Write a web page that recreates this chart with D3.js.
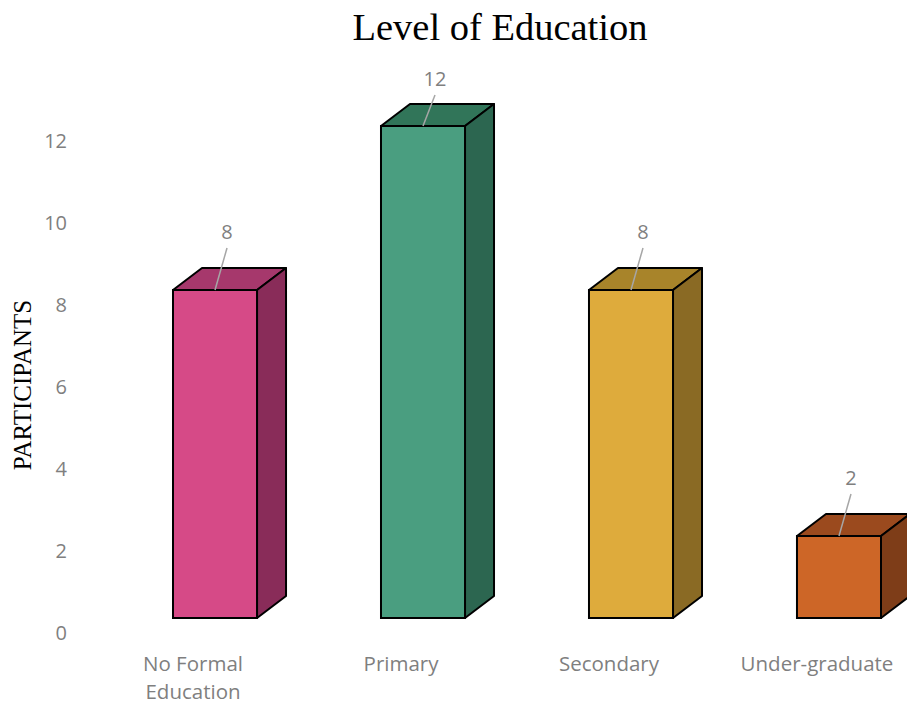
<!DOCTYPE html>
<html>
<head>
<meta charset="utf-8">
<script src="https://cdn.jsdelivr.net/npm/d3@7"></script>
<style>
  body { margin: 0; background: #fff; }
  svg { display: block; }
</style>
</head>
<body>
<div id="chart"></div>
<script>
// Chart data
var categories = ["No Formal Education", "Primary", "Secondary", "Under-graduate"];
var participants = [8, 12, 8, 2];
var yTicks = [0, 2, 4, 6, 8, 10, 12];

// Colours for each bar: front, top, side
var frontColors = ["#D64A87", "#4A9E80", "#DEAB3C", "#CD6627"];
var topColors = ["#A6386C", "#317559", "#A8842A", "#9B4A1E"];
var sideColors = ["#892C59", "#2C6650", "#8A6A24", "#7E3D18"];

var width = 907;
var height = 705;
var depthX = 29, depthY = 22;   // 3D offset of the back face

var svg = d3.select("#chart")
    .append("svg")
    .attr("width", width)
    .attr("height", height);

// Scales
var x = d3.scaleBand()
    .domain(categories)
    .range([110.6, 943.4])
    .paddingInner(0.596)
    .paddingOuter(0.3);

var y = d3.scaleLinear()
    .domain([0, 12])
    .range([618, 126]);

// Title
svg.append("text")
    .attr("x", 500)
    .attr("y", 40)
    .attr("text-anchor", "middle")
    .style("font-family", "'Liberation Serif', 'Times New Roman', serif")
    .style("font-size", "38.5px")
    .style("fill", "#000")
    .text("Level of Education");

// Y axis title
svg.append("text")
    .attr("transform", "translate(31, 385) rotate(-90)")
    .attr("text-anchor", "middle")
    .style("font-family", "'Liberation Serif', 'Times New Roman', serif")
    .style("font-size", "25px")
    .style("fill", "#000")
    .text("PARTICIPANTS");

// Y axis tick labels (sit on the floor level, a bit lower than the front face)
var yAxis = svg.append("g")
    .attr("transform", "translate(67, 15)")
    .call(d3.axisLeft(y).tickValues(yTicks).tickSize(0).tickPadding(0));
yAxis.select(".domain").remove();
yAxis.selectAll("text")
    .style("font-family", "'Open Sans', 'Noto Sans', sans-serif")
    .style("font-size", "20px")
    .style("fill", "#7f7f7f");

// Category labels
var catLabels = svg.append("g").selectAll("text")
    .data(categories)
    .enter().append("text")
    .attr("x", d => x(d) + x.bandwidth() / 2 - 22)
    .attr("y", 671)
    .attr("text-anchor", "middle")
    .style("font-family", "'Open Sans', 'Noto Sans', sans-serif")
    .style("font-size", "20.5px")
    .style("fill", "#7f7f7f");

catLabels.each(function(d) {
    var el = d3.select(this);
    var lines = d === "No Formal Education" ? ["No Formal", "Education"] : [d];
    lines.forEach(function(line, i) {
        el.append("tspan")
            .attr("x", x(d) + x.bandwidth() / 2 - 22)
            .attr("dy", i === 0 ? 0 : 28)
            .text(line);
    });
});

// 3D bars
var bars = svg.append("g").selectAll("g")
    .data(categories.map((c, i) => ({ cat: c, value: participants[i], i: i })))
    .enter().append("g");

bars.each(function(d) {
    var g = d3.select(this);
    var x0 = x(d.cat), x1 = x0 + x.bandwidth();
    var yt = y(d.value), yb = y(0);

    // top face
    g.append("path")
        .attr("d", `M${x0},${yt} L${x0 + depthX},${yt - depthY} L${x1 + depthX},${yt - depthY} L${x1},${yt} Z`)
        .attr("fill", topColors[d.i])
        .attr("stroke", "#000")
        .attr("stroke-width", 2)
        .attr("stroke-linejoin", "round");

    // side face
    g.append("path")
        .attr("d", `M${x1},${yt} L${x1 + depthX},${yt - depthY} L${x1 + depthX},${yb - depthY} L${x1},${yb} Z`)
        .attr("fill", sideColors[d.i])
        .attr("stroke", "#000")
        .attr("stroke-width", 2)
        .attr("stroke-linejoin", "round");

    // front face
    g.append("rect")
        .attr("x", x0)
        .attr("y", yt)
        .attr("width", x.bandwidth())
        .attr("height", yb - yt)
        .attr("fill", frontColors[d.i])
        .attr("stroke", "#000")
        .attr("stroke-width", 2);

    // data label with leader line
    var cx = x0 + x.bandwidth() / 2;
    var lx = cx + 12;
    var ly = Math.max(yt - 58, 79);
    g.append("line")
        .attr("x1", cx)
        .attr("y1", yt)
        .attr("x2", lx)
        .attr("y2", ly + 16)
        .attr("stroke", "#a6a6a6")
        .attr("stroke-width", 1.5);
    g.append("text")
        .attr("x", lx)
        .attr("y", ly + 7)
        .attr("text-anchor", "middle")
        .style("font-family", "'Open Sans', 'Noto Sans', sans-serif")
        .style("font-size", "20px")
        .style("fill", "#7f7f7f")
        .text(d.value);
});
</script>
</body>
</html>
